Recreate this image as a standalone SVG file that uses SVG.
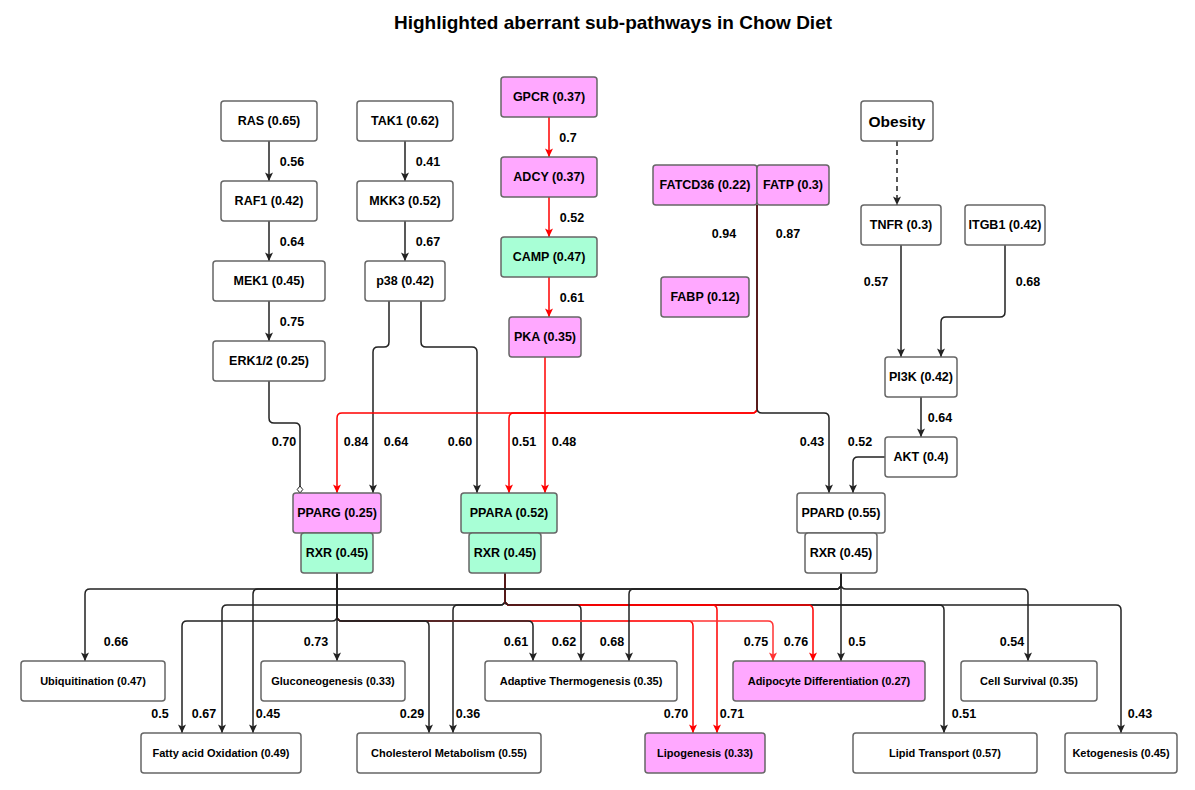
<svg xmlns="http://www.w3.org/2000/svg" width="1195" height="790" viewBox="0 0 1195 790">
<style>
.n rect{fill:#fff;stroke:#666;stroke-width:1.5}
.pink rect{fill:#ffa8ff}
.green rect{fill:#a8ffd6}
.n text{font-family:"Liberation Sans",Arial,sans-serif;font-weight:bold;font-size:12.5px;text-anchor:middle;dominant-baseline:central;fill:#000}
.n.s text{font-size:11px}
.e{fill:none;stroke:#222;stroke-width:1.5;marker-end:url(#ab)}
.e.r{stroke:#ff0000;marker-end:url(#ar)}
.e.r2{stroke:#ff3333;marker-end:url(#ar2)}
.lbl text{font-family:"Liberation Sans",Arial,sans-serif;font-weight:bold;font-size:12.5px;text-anchor:middle;dominant-baseline:central;fill:#000}
</style>
<defs>
<marker id="ab" viewBox="0 0 10 10" refX="9.5" refY="5" markerWidth="10" markerHeight="10" markerUnits="userSpaceOnUse" orient="auto"><path d="M1,1 L9.5,5 L1,9 L3,5 z" fill="#222"/></marker>
<marker id="ar" viewBox="0 0 10 10" refX="9.5" refY="5" markerWidth="10" markerHeight="10" markerUnits="userSpaceOnUse" orient="auto"><path d="M1,1 L9.5,5 L1,9 L3,5 z" fill="#ff0000"/></marker>
<marker id="ar2" viewBox="0 0 10 10" refX="9.5" refY="5" markerWidth="10" markerHeight="10" markerUnits="userSpaceOnUse" orient="auto"><path d="M1,1 L9.5,5 L1,9 L3,5 z" fill="#ff3333"/></marker>
<marker id="dm" viewBox="0 0 8 8" refX="7.5" refY="4" markerWidth="8" markerHeight="8" markerUnits="userSpaceOnUse" orient="auto"><path d="M0.5,4 L4,1.2 L7.5,4 L4,6.8 z" fill="#fff" stroke="#222" stroke-width="1"/></marker>
</defs>
<rect width="1195" height="790" fill="#fff"/>
<text x="613" y="22" font-family="'Liberation Sans',Arial,sans-serif" font-weight="bold" font-size="19" text-anchor="middle" dominant-baseline="central">Highlighted aberrant sub-pathways in Chow Diet</text>

<g id="connectors">
<path class="e" d="M269,141 V181"/>
<path class="e" d="M269,221 V261"/>
<path class="e" d="M269,301 V341"/>
<path class="e" d="M405,141 V181"/>
<path class="e" d="M405,221 V261"/>
<path class="e r" d="M549,117 V157"/>
<path class="e r" d="M549,197 V237"/>
<path class="e r" d="M549,277 V317"/>
<path class="e r" d="M545,357 V493"/>
<path class="e" stroke-dasharray="5,4" d="M897,141 V205"/>
<path class="e" d="M901,245 V357"/>
<path class="e" d="M1005,245 V312 Q1005,317 1000,317 H946 Q941,317 941,322 V357"/>
<path class="e" d="M921,397 V437"/>
<path class="e" d="M885,457 H858 Q853,457 853,462 V493"/>
<path class="e" style="marker-end:url(#dm)" d="M269,381 V418 Q269,423 274,423 H295 Q300,423 300,428 V493"/>
<path class="e" d="M389,301 V342 Q389,347 384,347 H378 Q373,347 373,352 V493"/>
<path class="e" d="M421,301 V342 Q421,347 426,347 H472 Q477,347 477,352 V493"/>
<path class="e r" d="M757,205 V408 Q757,413 752,413 H342 Q337,413 337,418 V493"/>
<path class="e r" d="M757,205 V408 Q757,413 752,413 H514 Q509,413 509,418 V493"/>
<path class="e" stroke="#2a0000" d="M757,205 V408 Q757,413 762,413 H824 Q829,413 829,418 V493"/>

<path class="e" d="M505,573 V600 Q505,605 510,605 H939 Q944,605 944,610 V733"/>
<path class="e" d="M505,573 V600 Q505,605 510,605 H1116 Q1121,605 1121,610 V733"/>
<path class="e" d="M505,573 V600 Q505,605 500,605 H227 Q222,605 222,610 V733"/>
<path class="e" d="M505,573 V600 Q505,605 500,605 H458 Q453,605 453,610 V733"/>
<path class="e r" d="M505,573 V600 Q505,605 510,605 H712 Q717,605 717,610 V733"/>
<path class="e r" d="M505,573 V600 Q505,605 510,605 H808 Q813,605 813,610 V661"/>
<path class="e" d="M505,573 V600 Q505,605 510,605 H576 Q581,605 581,610 V661"/>
<path class="e r" d="M337,573 V616 Q337,621 342,621 H688 Q693,621 693,626 V733"/>
<path class="e r2" d="M337,573 V616 Q337,621 342,621 H768 Q773,621 773,626 V661"/>
<path class="e" d="M337,573 V616 Q337,621 342,621 H424 Q429,621 429,626 V733"/>
<path class="e" d="M337,573 V616 Q337,621 342,621 H528 Q533,621 533,626 V661"/>
<path class="e" d="M337,573 V616 Q337,621 332,621 H187 Q182,621 182,626 V733"/>
<path class="e" d="M337,573 V661"/>
<path class="e" d="M841,573 V584 Q841,589 836,589 H90 Q85,589 85,594 V661"/>
<path class="e" d="M841,573 V584 Q841,589 836,589 H258 Q253,589 253,594 V733"/>
<path class="e" d="M841,573 V584 Q841,589 836,589 H634 Q629,589 629,594 V661"/>
<path class="e" d="M841,573 V661"/>
<path class="e" d="M841,573 V584 Q841,589 846,589 H1023 Q1028,589 1028,594 V661"/>
</g>

<g class="lbl" id="edge-labels">
<text x="292" y="162">0.56</text>
<text x="292" y="242">0.64</text>
<text x="292" y="322">0.75</text>
<text x="428" y="162">0.41</text>
<text x="428" y="242">0.67</text>
<text x="568" y="138">0.7</text>
<text x="572" y="218">0.52</text>
<text x="572" y="298">0.61</text>
<text x="724" y="234">0.94</text>
<text x="788" y="234">0.87</text>
<text x="876" y="282">0.57</text>
<text x="1028" y="282">0.68</text>
<text x="940" y="418">0.64</text>
<text x="284" y="442">0.70</text>
<text x="356" y="442">0.84</text>
<text x="396" y="442">0.64</text>
<text x="460" y="442">0.60</text>
<text x="524" y="442">0.51</text>
<text x="564" y="442">0.48</text>
<text x="812" y="442">0.43</text>
<text x="860" y="442">0.52</text>
<text x="116" y="642">0.66</text>
<text x="316" y="642">0.73</text>
<text x="516" y="642">0.61</text>
<text x="564" y="642">0.62</text>
<text x="612" y="642">0.68</text>
<text x="756" y="642">0.75</text>
<text x="796" y="642">0.76</text>
<text x="857" y="642">0.5</text>
<text x="1012" y="642">0.54</text>
<text x="160" y="714">0.5</text>
<text x="204" y="714">0.67</text>
<text x="268" y="714">0.45</text>
<text x="412" y="714">0.29</text>
<text x="468" y="714">0.36</text>
<text x="676" y="714">0.70</text>
<text x="732" y="714">0.71</text>
<text x="964" y="714">0.51</text>
<text x="1140" y="714">0.43</text>
</g>

<g id="RAS" class="n"><rect x="221" y="101" width="96" height="40" rx="3"/><text x="269" y="121">RAS (0.65)</text></g>
<g id="RAF1" class="n"><rect x="221" y="181" width="96" height="40" rx="3"/><text x="269" y="201">RAF1 (0.42)</text></g>
<g id="MEK1" class="n"><rect x="213" y="261" width="112" height="40" rx="3"/><text x="269" y="281">MEK1 (0.45)</text></g>
<g id="ERK12" class="n"><rect x="213" y="341" width="112" height="40" rx="3"/><text x="269" y="361">ERK1/2 (0.25)</text></g>
<g id="TAK1" class="n"><rect x="357" y="101" width="96" height="40" rx="3"/><text x="405" y="121">TAK1 (0.62)</text></g>
<g id="MKK3" class="n"><rect x="357" y="181" width="96" height="40" rx="3"/><text x="405" y="201">MKK3 (0.52)</text></g>
<g id="p38" class="n"><rect x="365" y="261" width="80" height="40" rx="3"/><text x="405" y="281">p38 (0.42)</text></g>
<g id="GPCR" class="n pink"><rect x="501" y="77" width="96" height="40" rx="3"/><text x="549" y="97">GPCR (0.37)</text></g>
<g id="ADCY" class="n pink"><rect x="501" y="157" width="96" height="40" rx="3"/><text x="549" y="177">ADCY (0.37)</text></g>
<g id="CAMP" class="n green"><rect x="501" y="237" width="96" height="40" rx="3"/><text x="549" y="257">CAMP (0.47)</text></g>
<g id="PKA" class="n pink"><rect x="509" y="317" width="72" height="40" rx="3"/><text x="545" y="337">PKA (0.35)</text></g>
<g id="FATCD36" class="n pink"><rect x="653" y="165" width="104" height="40" rx="3"/><text x="705" y="185">FATCD36 (0.22)</text></g>
<g id="FATP" class="n pink"><rect x="757" y="165" width="72" height="40" rx="3"/><text x="793" y="185">FATP (0.3)</text></g>
<g id="FABP" class="n pink"><rect x="661" y="277" width="88" height="40" rx="3"/><text x="705" y="297">FABP (0.12)</text></g>
<g id="Obesity" class="n"><rect x="861" y="101" width="72" height="40" rx="3"/><text x="897" y="121" style="font-size:15.5px">Obesity</text></g>
<g id="TNFR" class="n"><rect x="861" y="205" width="80" height="40" rx="3"/><text x="901" y="225">TNFR (0.3)</text></g>
<g id="ITGB1" class="n"><rect x="965" y="205" width="80" height="40" rx="3"/><text x="1005" y="225">ITGB1 (0.42)</text></g>
<g id="PI3K" class="n"><rect x="885" y="357" width="72" height="40" rx="3"/><text x="921" y="377">PI3K (0.42)</text></g>
<g id="AKT" class="n"><rect x="885" y="437" width="72" height="40" rx="3"/><text x="921" y="457">AKT (0.4)</text></g>
<g id="PPARG" class="n pink"><rect x="293" y="493" width="88" height="40" rx="3"/><text x="337" y="513">PPARG (0.25)</text></g>
<g id="RXR1" class="n green"><rect x="301" y="533" width="72" height="40" rx="3"/><text x="337" y="553">RXR (0.45)</text></g>
<g id="PPARA" class="n green"><rect x="461" y="493" width="96" height="40" rx="3"/><text x="509" y="513">PPARA (0.52)</text></g>
<g id="RXR2" class="n green"><rect x="469" y="533" width="72" height="40" rx="3"/><text x="505" y="553">RXR (0.45)</text></g>
<g id="PPARD" class="n"><rect x="797" y="493" width="88" height="40" rx="3"/><text x="841" y="513">PPARD (0.55)</text></g>
<g id="RXR3" class="n"><rect x="805" y="533" width="72" height="40" rx="3"/><text x="841" y="553">RXR (0.45)</text></g>

<g id="Ubiquitination" class="n s"><rect x="21" y="661" width="144" height="40" rx="3"/><text x="93" y="681">Ubiquitination (0.47)</text></g>
<g id="Gluconeogenesis" class="n s"><rect x="261" y="661" width="144" height="40" rx="3"/><text x="333" y="681">Gluconeogenesis (0.33)</text></g>
<g id="AdaptiveThermogenesis" class="n s"><rect x="485" y="661" width="192" height="40" rx="3"/><text x="581" y="681">Adaptive Thermogenesis (0.35)</text></g>
<g id="AdipocyteDifferentiation" class="n s pink"><rect x="733" y="661" width="192" height="40" rx="3"/><text x="829" y="681">Adipocyte Differentiation (0.27)</text></g>
<g id="CellSurvival" class="n s"><rect x="961" y="661" width="136" height="40" rx="3"/><text x="1029" y="681">Cell Survival (0.35)</text></g>
<g id="FattyAcidOxidation" class="n s"><rect x="141" y="733" width="160" height="40" rx="3"/><text x="221" y="753">Fatty acid Oxidation (0.49)</text></g>
<g id="CholesterolMetabolism" class="n s"><rect x="357" y="733" width="184" height="40" rx="3"/><text x="449" y="753">Cholesterol Metabolism (0.55)</text></g>
<g id="Lipogenesis" class="n s pink"><rect x="645" y="733" width="120" height="40" rx="3"/><text x="705" y="753">Lipogenesis (0.33)</text></g>
<g id="LipidTransport" class="n s"><rect x="853" y="733" width="184" height="40" rx="3"/><text x="945" y="753">Lipid Transport (0.57)</text></g>
<g id="Ketogenesis" class="n s"><rect x="1065" y="733" width="112" height="40" rx="3"/><text x="1121" y="753">Ketogenesis (0.45)</text></g>
</svg>
